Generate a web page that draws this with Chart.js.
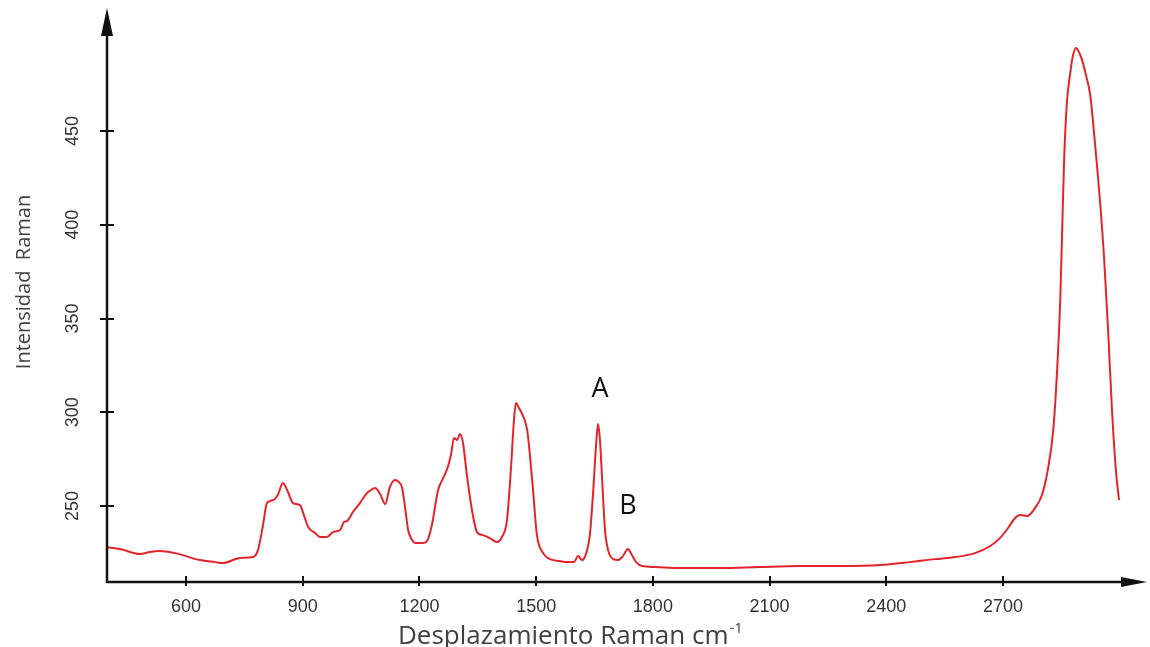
<!DOCTYPE html>
<html>
<head>
<meta charset="utf-8">
<title>Espectro Raman</title>
<script src="https://cdn.jsdelivr.net/npm/chart.js@4.4.1/dist/chart.umd.min.js"></script>
<style>
  html, body { margin: 0; padding: 0; background: #fff; }
  #wrap { width: 1150px; height: 647px; }
</style>
</head>
<body>
<div id="wrap"><canvas id="raman" width="1150" height="647"></canvas></div>
<script>
const shift = [397, 430, 482, 507, 533, 572, 636, 675, 695, 739, 772, 785, 798, 808, 824, 836, 849, 862, 875, 893,
  903, 914, 932, 944, 962, 978, 996, 1006, 1014, 1029, 1047, 1065, 1075, 1086, 1099, 1112, 1124, 1137, 1147, 1155,
  1163, 1171, 1181, 1189, 1209, 1222, 1232, 1248, 1261, 1273, 1281, 1289, 1297, 1304, 1312, 1322, 1335, 1348, 1363, 1381,
  1399, 1412, 1425, 1435, 1443, 1448, 1456, 1464, 1477, 1484, 1492, 1502, 1518, 1536, 1561, 1579, 1597, 1608, 1618, 1631,
  1638, 1646, 1654, 1659, 1664, 1669, 1677, 1685, 1698, 1710, 1723, 1736, 1746, 1757, 1772, 1806, 1870, 1973, 2075, 2178,
  2281, 2384, 2461, 2525, 2577, 2628, 2667, 2692, 2713, 2731, 2744, 2762, 2782, 2800, 2815, 2829, 2839, 2847, 2852, 2857,
  2864, 2872, 2880, 2888, 2895, 2903, 2913, 2924, 2936, 2949, 2960, 2970, 2980, 2990, 2998];
const intensity = [228.1, 227.1, 224.4, 225.5, 226.0, 224.9, 221.2, 220.1, 219.6, 222.3, 222.8, 226.5, 239.9, 251.6, 253.2, 255.9, 262.3, 257.5, 251.6, 250.5,
  245.2, 238.8, 235.6, 233.5, 233.5, 236.1, 237.2, 241.5, 242.0, 246.8, 251.6, 256.9, 258.5, 259.6, 256.4, 251.1, 260.1, 263.9, 262.8, 260.1,
  249.5, 237.2, 231.9, 230.3, 230.3, 232.4, 239.9, 258.5, 264.9, 270.8, 277.2, 286.3, 285.2, 288.4, 283.6, 266.5, 247.9, 236.1, 234.5, 232.9,
  230.8, 233.5, 242.5, 269.2, 295.9, 304.9, 302.2, 299.1, 290.5, 277.2, 258.5, 234.5, 224.9, 221.7, 220.7, 220.1, 220.1, 223.3, 221.2, 226.5,
  234.5, 255.9, 282.5, 293.7, 285.2, 266.5, 237.2, 226.5, 221.7, 221.2, 223.3, 227.1, 223.9, 220.1, 218.0, 217.5, 216.9, 216.9, 217.5, 218.0,
  218.0, 218.5, 220.1, 221.7, 222.8, 224.9, 228.7, 232.9, 238.3, 243.6, 245.2, 244.7, 248.9, 255.9, 269.2, 290.5, 322.5, 359.9, 397.2, 434.5,
  464.9, 479.9, 490.5, 494.3, 492.1, 487.9, 479.9, 469.2, 444.1, 413.2, 381.2, 343.9, 301.2, 269.2, 253.2];

const xTicks = [600, 900, 1200, 1500, 1800, 2100, 2400, 2700];
const yTicks = [250, 300, 350, 400, 450];

// etiquetas de los picos
const peakNames = ['A', 'B'];
const peakShift = [1659, 1736];
const peakLabelY = [312, 250];

const points = shift.map(function(x, i) { return { x: x, y: intensity[i] }; });

// ejes con flechas, marcas y textos
const axesPlugin = {
    id: 'ramanAxes',
    afterDraw: function(chart) {
        const ctx = chart.ctx;
        const xs = chart.scales.x;
        const ys = chart.scales.y;
        const area = chart.chartArea;
        const x0 = area.left, y0 = area.bottom;

        ctx.save();
        ctx.strokeStyle = '#111';
        ctx.fillStyle = '#111';
        ctx.lineWidth = 2.5;

        // eje Y
        ctx.beginPath();
        ctx.moveTo(x0, y0 + 1);
        ctx.lineTo(x0, area.top + 20);
        ctx.stroke();
        ctx.beginPath();
        ctx.moveTo(x0, area.top - 2);
        ctx.lineTo(x0 - 6, area.top + 26);
        ctx.lineTo(x0 + 6, area.top + 26);
        ctx.closePath();
        ctx.fill();

        // eje X
        ctx.beginPath();
        ctx.moveTo(x0 - 1, y0);
        ctx.lineTo(area.right - 20, y0);
        ctx.stroke();
        ctx.beginPath();
        ctx.moveTo(area.right, y0);
        ctx.lineTo(area.right - 26, y0 - 5);
        ctx.lineTo(area.right - 26, y0 + 5);
        ctx.closePath();
        ctx.fill();

        // marcas
        ctx.lineWidth = 2;
        xTicks.forEach(function(v) {
            const px = Math.round(xs.getPixelForValue(v));
            ctx.beginPath();
            ctx.moveTo(px, y0 - 6);
            ctx.lineTo(px, y0 + 4);
            ctx.stroke();
        });
        yTicks.forEach(function(v) {
            const py = Math.round(ys.getPixelForValue(v));
            ctx.beginPath();
            ctx.moveTo(x0 - 7, py);
            ctx.lineTo(x0 + 7, py);
            ctx.stroke();
        });

        // números de los ejes
        ctx.fillStyle = '#333';
        ctx.font = '18px "Liberation Sans", Arial, sans-serif';
        ctx.textAlign = 'center';
        ctx.textBaseline = 'middle';
        xTicks.forEach(function(v) {
            ctx.fillText(String(v), xs.getPixelForValue(v), y0 + 25);
        });
        yTicks.forEach(function(v) {
            ctx.save();
            ctx.translate(x0 - 34, ys.getPixelForValue(v));
            ctx.rotate(-Math.PI / 2);
            ctx.fillText(String(v), 0, 0);
            ctx.restore();
        });

        // títulos
        ctx.fillStyle = '#404040';
        ctx.font = '20px "Open Sans", sans-serif';
        ctx.save();
        ctx.translate(24, 282);
        ctx.rotate(-Math.PI / 2);
        ctx.fillText('Intensidad  Raman', 0, 0);
        ctx.restore();

        ctx.textAlign = 'left';
        ctx.textBaseline = 'alphabetic';
        ctx.font = '26px "Open Sans", sans-serif';
        const main = 'Desplazamiento Raman cm';
        const tx = 398, ty = 644;
        ctx.fillText(main, tx, ty);
        const w = ctx.measureText(main).width;
        ctx.font = '15px "Open Sans", sans-serif';
        ctx.fillText('-1', tx + w + 1, ty - 11);

        // letras A y B
        ctx.fillStyle = '#111';
        ctx.font = '27px "Open Sans", sans-serif';
        ctx.textAlign = 'center';
        ctx.textBaseline = 'middle';
        peakNames.forEach(function(n, i) {
            ctx.fillText(n, xs.getPixelForValue(peakShift[i]) + (i === 0 ? 2 : 0),
                ys.getPixelForValue(peakLabelY[i]));
        });
        ctx.restore();
    }
};

window.addEventListener('load', function() {
    new Chart(document.getElementById('raman'), {
        type: 'scatter',
        data: {
            datasets: [{
                label: 'Espectro',
                data: points,
                showLine: true,
                borderColor: '#e3242b',
                borderWidth: 2,
                pointRadius: 0,
                cubicInterpolationMode: 'monotone'
            }]
        },
        options: {
            responsive: false,
            animation: false,
            layout: { padding: { left: 107, right: 3, top: 10, bottom: 65 } },
            plugins: {
                legend: { display: false },
                tooltip: { enabled: false }
            },
            scales: {
                x: { type: 'linear', display: false, min: 397, max: 3070 },
                y: { type: 'linear', display: false, min: 209.5, max: 514.5 }
            }
        },
        plugins: [axesPlugin]
    });
});
</script>
</body>
</html>
